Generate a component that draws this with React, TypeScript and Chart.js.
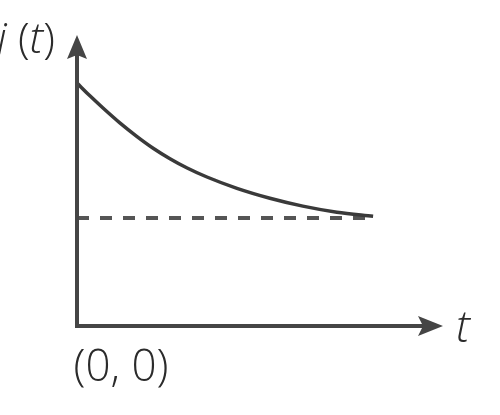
import { useEffect, useRef } from 'react'
import { Chart, registerables } from 'chart.js'

Chart.register(...registerables)

// t and j(t) values (axis units 0..10)
const curveT = [0, 0.36, 0.71, 1.17, 1.64, 2.08, 2.54, 3.01, 3.55, 4.37, 5.27, 6.17, 7.1, 8.09]
const curveJ = [8.35, 7.9, 7.49, 6.98, 6.51, 6.11, 5.75, 5.43, 5.12, 4.73, 4.39, 4.12, 3.91, 3.77]
const steadyT = [0, 8.09]
const steadyJ = [3.71, 3.71]

const xLabel = 't'
const yLabel = ['j', ' (', 't', ')']
const originLabel = '(0, 0)'

const AXIS_COLOR = '#454545'
const FONT = '"Open Sans", "DejaVu Sans", sans-serif'

const axesPlugin = {
  id: 'arrowAxes',
  afterDraw(chart: Chart) {
    const { ctx, chartArea, scales } = chart
    const x0 = scales.x.getPixelForValue(0)
    const y0 = scales.y.getPixelForValue(0)
    const xEnd = chartArea.right
    const yEnd = chartArea.top

    ctx.save()
    ctx.strokeStyle = AXIS_COLOR
    ctx.fillStyle = AXIS_COLOR
    ctx.lineWidth = 4
    ctx.lineCap = 'butt'

    // axis lines
    ctx.beginPath()
    ctx.moveTo(x0, yEnd + 18)
    ctx.lineTo(x0, y0)
    ctx.lineTo(xEnd - 18, y0)
    ctx.stroke()

    // y arrow head
    ctx.beginPath()
    ctx.moveTo(x0, yEnd)
    ctx.lineTo(x0 + 10, yEnd + 24)
    ctx.lineTo(x0, yEnd + 20)
    ctx.lineTo(x0 - 10, yEnd + 24)
    ctx.closePath()
    ctx.fill()

    // x arrow head
    ctx.beginPath()
    ctx.moveTo(xEnd, y0)
    ctx.lineTo(xEnd - 25, y0 - 10)
    ctx.lineTo(xEnd - 20, y0)
    ctx.lineTo(xEnd - 25, y0 + 10)
    ctx.closePath()
    ctx.fill()

    // labels
    ctx.fillStyle = '#2b2b2b'
    ctx.textBaseline = 'middle'
    ctx.textAlign = 'center'
    ctx.font = `300 44px ${FONT}`
    ctx.fillText(originLabel, x0 + 44, y0 + 42)

    ctx.font = `italic 300 44px ${FONT}`
    ctx.fillText(xLabel, xEnd + 20, y0 + 3)

    ctx.textAlign = 'left'
    let lx = x0 - 80
    yLabel.forEach((part, i) => {
      ctx.font = i % 2 === 0 ? `italic 300 43px ${FONT}` : `300 43px ${FONT}`
      ctx.fillText(part, lx, yEnd + 6)
      lx += ctx.measureText(part).width
    })
    ctx.restore()
  },
}

export default function App() {
  const canvasRef = useRef<HTMLCanvasElement>(null)

  useEffect(() => {
    if (!canvasRef.current) return
    const chart = new Chart(canvasRef.current, {
      type: 'scatter',
      data: {
        datasets: [
          {
            label: 'j(t)',
            data: curveT.map((t, i) => ({ x: t, y: curveJ[i] })),
            showLine: true,
            borderColor: '#3a3a3a',
            borderWidth: 3.5,
            cubicInterpolationMode: 'monotone',
            pointRadius: 0,
          },
          {
            label: 'steady',
            data: steadyT.map((t, i) => ({ x: t, y: steadyJ[i] })),
            showLine: true,
            borderColor: '#555555',
            borderWidth: 4,
            borderDash: [12, 11],
            pointRadius: 0,
          },
        ],
      },
      options: {
        animation: false,
        responsive: true,
        maintainAspectRatio: false,
        layout: { padding: { left: 77, right: 57, top: 35, bottom: 89 } },
        scales: {
          x: { type: 'linear', min: 0, max: 10, display: false },
          y: { type: 'linear', min: 0, max: 10, display: false },
        },
        plugins: {
          legend: { display: false },
          tooltip: { enabled: false },
        },
      },
      plugins: [axesPlugin],
    })
    return () => chart.destroy()
  }, [])

  return (
    <div style={{ position: 'fixed', left: 0, top: 0, width: 500, height: 415, background: '#fff' }}>
      <canvas ref={canvasRef} />
    </div>
  )
}
